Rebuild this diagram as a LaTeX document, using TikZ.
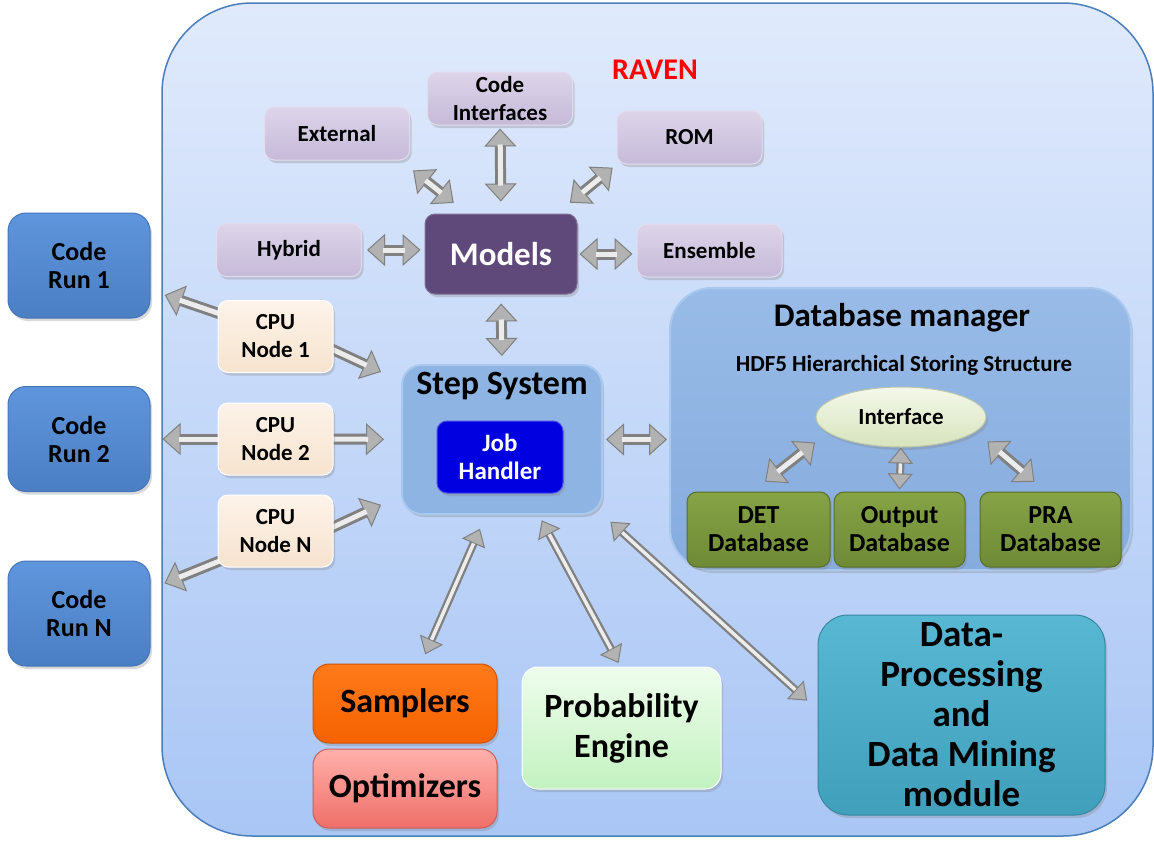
\documentclass[tikz,border=0pt]{standalone}
\usepackage{fontspec}
\setmainfont{Carlito}
\usetikzlibrary{arrows.meta,shapes.geometric,shadows}

\definecolor{ravenTop}{HTML}{E0EAFC}
\definecolor{ravenBot}{HTML}{A9C6F5}
\definecolor{ravenEdge}{HTML}{4A7EBB}
\definecolor{lavTop}{HTML}{DDD4E9}
\definecolor{lavBot}{HTML}{C6BAD9}
\definecolor{lavEdge}{HTML}{E4DCEE}
\definecolor{modelsC}{HTML}{5F497A}
\definecolor{runTop}{HTML}{5F95DC}
\definecolor{runBot}{HTML}{4A7FC4}
\definecolor{runEdge}{HTML}{4675B8}
\definecolor{cpuTop}{HTML}{FDF3E9}
\definecolor{cpuBot}{HTML}{F6E3CF}
\definecolor{stepC}{HTML}{8DB4E2}
\definecolor{stepEdge}{HTML}{A9C8EE}
\definecolor{jobC}{HTML}{0000E0}
\definecolor{dbmTop}{HTML}{98BBE7}
\definecolor{dbmBot}{HTML}{86ACDE}
\definecolor{ifaceTop}{HTML}{F4F8EA}
\definecolor{ifaceBot}{HTML}{D7E4BD}
\definecolor{dbTop}{HTML}{86A346}
\definecolor{dbBot}{HTML}{6F8A35}
\definecolor{sampTop}{HTML}{FF7A1A}
\definecolor{sampBot}{HTML}{F56200}
\definecolor{optTop}{HTML}{FFB0AB}
\definecolor{optBot}{HTML}{EF6F69}
\definecolor{probTop}{HTML}{EEFDEC}
\definecolor{probBot}{HTML}{C3F2C0}
\definecolor{dpmTop}{HTML}{58B8D4}
\definecolor{dpmBot}{HTML}{40A0BC}

\pgfdeclarelayer{background}
\pgfsetlayers{background,main}

\tikzset{
  shadowed/.style={drop shadow={shadow xshift=2pt,shadow yshift=-3pt,opacity=0.3}},
  boxbase/.style={rounded corners=10pt, align=center, inner sep=0pt, shadowed},
  frame/.style={rounded corners=90pt, draw=ravenEdge, line width=1.5pt,
    top color=ravenTop, bottom color=ravenBot,
    minimum width=991pt, minimum height=833pt, inner sep=0pt},
  model/.style={boxbase, draw=lavEdge, line width=1pt, top color=lavTop, bottom color=lavBot,
    minimum width=145pt, minimum height=53pt, font=\bfseries\fontsize{23}{28}\selectfont},
  codebox/.style={boxbase, rounded corners=18pt, draw=runEdge, line width=1pt,
    top color=runTop, bottom color=runBot, minimum width=142pt, minimum height=105pt,
    font=\bfseries\fontsize{26}{28}\selectfont},
  cpubox/.style={boxbase, draw=white, line width=1pt, top color=cpuTop, bottom color=cpuBot,
    minimum width=115pt, minimum height=72pt, font=\bfseries\fontsize{23}{28}\selectfont},
  dbbox/.style={boxbase, draw=dbBot!80!black, line width=1pt, top color=dbTop, bottom color=dbBot,
    minimum height=75pt, font=\bfseries\fontsize{26}{28}\selectfont},
  bigbox/.style={boxbase, rounded corners=16pt, line width=1pt,
    font=\bfseries\fontsize{34}{40}\selectfont},
  fatline/.style={draw=gray, line width=11pt,
    >={Triangle[width=32pt,length=18pt,line width=1pt,fill=gray!60]}},
  fatcore/.style={draw=white!85!gray, line width=5pt},
  slimline/.style={draw=gray, line width=8pt,
    >={Triangle[width=25pt,length=16pt,line width=1pt,fill=gray!60]}},
  slimcore/.style={draw=white!85!gray, line width=3.5pt}
}

\newcommand{\dblarrow}[5][fat]{%
  \draw[#1line,<->,shorten <=#4pt,shorten >=#5pt] (#2) -- (#3);
  \draw[#1core,shorten <=#4pt+16pt,shorten >=#5pt+16pt] (#2) -- (#3);}
\newcommand{\onearrow}[3]{%
  \draw[fatline,->,shorten <=-15pt,shorten >=#3pt] (#1) -- (#2);
  \draw[fatcore,shorten <=-15pt,shorten >=#3pt+16pt] (#1) -- (#2);}

\begin{document}
\begin{tikzpicture}[x=1pt,y=-1pt]
\useasboundingbox (0,0) rectangle (1154,849);

% RAVEN frame
\begin{pgfonlayer}{background}
  \node[frame] (raven) at (657.5,419.5) {};
\end{pgfonlayer}
\node[text=red, font=\bfseries\fontsize{30}{32}\selectfont] (ravenlabel) at (655,70) {RAVEN};

% models
\node[model] (codeif) at (500,98.5) {Code\\Interfaces};
\node[model] (external) at (337,133.5) {External};
\node[model] (rom) at (689.5,137.5) {ROM};
\node[model] (hybrid) at (289,250) {Hybrid};
\node[model] (ensemble) at (709.5,250.5) {Ensemble};
\node[boxbase, fill=modelsC, draw=modelsC!80!white, line width=1pt, text=white,
  minimum width=152pt, minimum height=80pt, font=\bfseries\fontsize{33}{36}\selectfont]
  (models) at (501,254) {Models};

% code runs and cpu nodes
\node[codebox] (run1) at (79,265.5) {Code\\Run 1};
\node[codebox] (run2) at (79,439) {Code\\Run 2};
\node[codebox] (runN) at (79,613.5) {Code\\Run N};
\node[cpubox] (cpu1) at (275.5,336.5) {CPU\\Node 1};
\node[cpubox] (cpu2) at (275.5,439) {CPU\\Node 2};
\node[cpubox] (cpuN) at (275.5,531) {CPU\\Node N};

% step system
\node[boxbase, rounded corners=20pt, fill=stepC, draw=stepEdge, line width=2pt,
  minimum width=200pt, minimum height=149pt] (step) at (502,439.5) {};
\node[font=\bfseries\fontsize{34}{36}\selectfont] (steptitle) at (502,386) {Step System};
\node[boxbase, fill=jobC, draw=jobC!70!white, line width=1pt, text=white,
  minimum width=126pt, minimum height=72pt, font=\bfseries\fontsize{25}{28}\selectfont]
  (job) at (500,457) {Job\\Handler};

% database manager
\node[boxbase, rounded corners=42pt, top color=dbmTop, bottom color=dbmBot, draw=stepEdge,
  line width=2pt, minimum width=461pt, minimum height=282pt] (dbm) at (900.5,429) {};
\node[font=\bfseries\fontsize{33}{36}\selectfont] (dbmtitle) at (902,318) {Database manager};
\node[font=\bfseries\fontsize{23}{26}\selectfont] (hdf) at (904,365) {HDF5 Hierarchical Storing Structure};
\node[ellipse, draw=ifaceBot!70!gray, line width=1pt, top color=ifaceTop, bottom color=ifaceBot,
  minimum width=170pt, minimum height=60pt, inner sep=0pt, shadowed,
  font=\bfseries\fontsize{23}{26}\selectfont] (iface) at (901,417) {Interface};
\node[dbbox, minimum width=143pt] (det) at (758.5,529.5) {DET\\Database};
\node[dbbox, minimum width=131pt] (out) at (899.5,529.5) {Output\\Database};
\node[dbbox, minimum width=141pt] (pra) at (1050.5,529.5) {PRA\\Database};

% bottom modules
\node[bigbox, top color=sampTop, bottom color=sampBot, draw=sampBot!85!black,
  minimum width=184pt, minimum height=79pt] (samp) at (405,703.5) {Samplers};
\node[bigbox, top color=optTop, bottom color=optBot, draw=optBot!85!black,
  minimum width=184pt, minimum height=79pt] (optim) at (405,788.5) {Optimizers};
\node[bigbox, top color=probTop, bottom color=probBot, draw=white,
  minimum width=199pt, minimum height=122pt] (prob) at (621.5,728) {Probability\\Engine};
\node[bigbox, rounded corners=30pt, top color=dpmTop, bottom color=dpmBot, draw=dpmBot!85!black,
  minimum width=287pt, minimum height=200pt, font=\bfseries\fontsize{37}{40}\selectfont]
  (dpm) at (961.5,715) {Data-\\Processing\\and\\Data Mining\\module};

% arrows
\dblarrow{codeif.south}{models.north}{3}{12}
\dblarrow{external.-23}{models.130}{16}{17}
\dblarrow{rom.south west}{models.36}{5}{17}
\dblarrow{hybrid.east}{hybrid.east -| models.west}{5}{4}
\dblarrow{models.east}{models.east -| ensemble.west}{2}{4}
\dblarrow{models.south}{step.north}{9}{8}
\dblarrow{step.east}{step.east -| dbm.west}{3}{2}
\dblarrow[slim]{step.-102}{samp.68}{15}{10}
\dblarrow[slim]{step.-64}{prob.91}{6}{4}
\dblarrow[slim]{step.south east}{dpm.178}{10}{14}
\dblarrow{iface.192}{det.99}{16}{16}
\dblarrow[slim]{iface.south}{out.north}{0}{2}
\dblarrow{iface.-11}{pra.97}{15}{15}
\begin{pgfonlayer}{background}
  \onearrow{cpu1.158}{run1.-19}{15}
  \onearrow{cpu1.-13}{step.150}{22}
  \onearrow{cpu2.west}{run2.east}{12}
  \onearrow{cpu2.east}{step.west}{17}
  \onearrow{cpuN.208}{runN.19}{15}
  \onearrow{cpuN.4}{step.209}{22}
\end{pgfonlayer}
\end{tikzpicture}
\end{document}
